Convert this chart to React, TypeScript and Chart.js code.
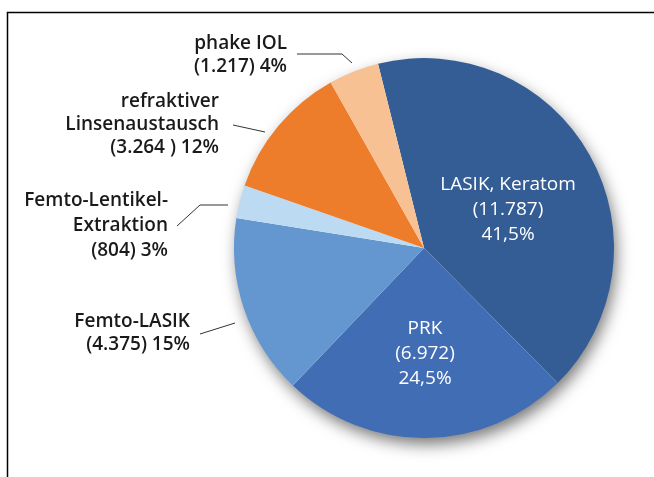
import React, { useEffect, useRef } from "react";
import { Chart, registerables } from "chart.js";

Chart.register(...registerables);

// ---- data ----
const categories = [
  "LASIK, Keratom",
  "PRK",
  "Femto-LASIK",
  "Femto-Lentikel-Extraktion",
  "refraktiver Linsenaustausch",
  "phake IOL",
];
const counts = [11787, 6972, 4375, 804, 3264, 1217];
const labelTexts = [
  ["LASIK, Keratom", "(11.787)", "41,5%"],
  ["PRK", "(6.972)", "24,5%"],
  ["Femto-LASIK", "(4.375) 15%"],
  ["Femto-Lentikel-", "Extraktion", "(804) 3%"],
  ["refraktiver", "Linsenaustausch", "(3.264 ) 12%"],
  ["phake IOL", "(1.217) 4%"],
];
const colors = ["#335d94", "#416db4", "#6497cf", "#bcdbf3", "#ed7d2b", "#f8c194"];

// ---- label layout (relative to pie centre) ----
const labelInside = [true, true, false, false, false, false];
const labelAnchor = [
  [84, -63, 25],
  [1, 81, 25],
  [-234, 74, 23],
  [-256, -47, 25],
  [-205, -146, 23],
  [-137, -204, 23],
];
const leaderPaths: number[][][] = [
  [],
  [],
  [[-224, 86], [-189, 75]],
  [[-247, -22], [-224, -43], [-196, -43]],
  [[-191, -123], [-159, -116]],
  [[-127, -194], [-82, -194], [-72, -185]],
];

const FONT = "'Open Sans', Lato, sans-serif";

const framePlugin = {
  id: "frame",
  beforeDraw(chart: any) {
    const ctx = chart.ctx;
    ctx.save();
    ctx.strokeStyle = "#000";
    ctx.lineWidth = 1.5;
    ctx.strokeRect(7.5, 12.5, 700, 520);
    ctx.restore();
  },
};

const shadowPlugin = {
  id: "pieShadow",
  beforeDatasetsDraw(chart: any) {
    const arc: any = chart.getDatasetMeta(0).data[0];
    if (!arc) return;
    const ctx = chart.ctx;
    ctx.save();
    ctx.shadowColor = "rgba(0,0,0,0.55)";
    ctx.shadowBlur = 16;
    ctx.shadowOffsetX = 3;
    ctx.shadowOffsetY = 7;
    ctx.fillStyle = "#ffffff";
    ctx.beginPath();
    ctx.arc(arc.x, arc.y, arc.outerRadius - 1, 0, Math.PI * 2);
    ctx.fill();
    ctx.restore();
  },
};

const labelPlugin = {
  id: "pieLabels",
  afterDatasetsDraw(chart: any) {
    const meta = chart.getDatasetMeta(0);
    const ctx = chart.ctx;
    const cx = meta.data[0].x;
    const cy = meta.data[0].y;
    ctx.save();
    labelTexts.forEach((lines, i) => {
      const [ax, ay, lh] = labelAnchor[i];
      const inside = labelInside[i];
      ctx.font = `${inside ? "400" : "600"} 19px ${FONT}`;
      ctx.fillStyle = inside ? "#ffffff" : "#1a1a1a";
      ctx.textAlign = inside ? "center" : "right";
      ctx.textBaseline = "middle";
      lines.forEach((t, k) => ctx.fillText(t, cx + ax, cy + ay + k * lh));
      const path = leaderPaths[i];
      if (path.length) {
        ctx.strokeStyle = "#333333";
        ctx.lineWidth = 1;
        ctx.beginPath();
        path.forEach(([px, py], k) => {
          if (k === 0) ctx.moveTo(cx + px, cy + py);
          else ctx.lineTo(cx + px, cy + py);
        });
        ctx.stroke();
      }
    });
    ctx.restore();
  },
};

export default function App() {
  const ref = useRef<HTMLCanvasElement | null>(null);
  useEffect(() => {
    if (!ref.current) return;
    const chart = new Chart(ref.current, {
      type: "pie",
      data: {
        labels: categories,
        datasets: [
          {
            data: counts,
            backgroundColor: colors,
            borderWidth: 0,
          },
        ],
      },
      options: {
        responsive: false,
        animation: false,
        devicePixelRatio: 1,
        rotation: -14,
        layout: { padding: { left: 234, right: 40, top: 58, bottom: 39 } },
        plugins: {
          legend: { display: false },
          tooltip: { enabled: false },
        },
      },
      plugins: [framePlugin, shadowPlugin, labelPlugin],
    });
    return () => chart.destroy();
  }, []);
  return (
    <div style={{ position: "fixed", left: 0, top: 0, width: 654, height: 477, background: "#fff" }}>
      <canvas ref={ref} width={654} height={477} style={{ display: "block" }} />
    </div>
  );
}
